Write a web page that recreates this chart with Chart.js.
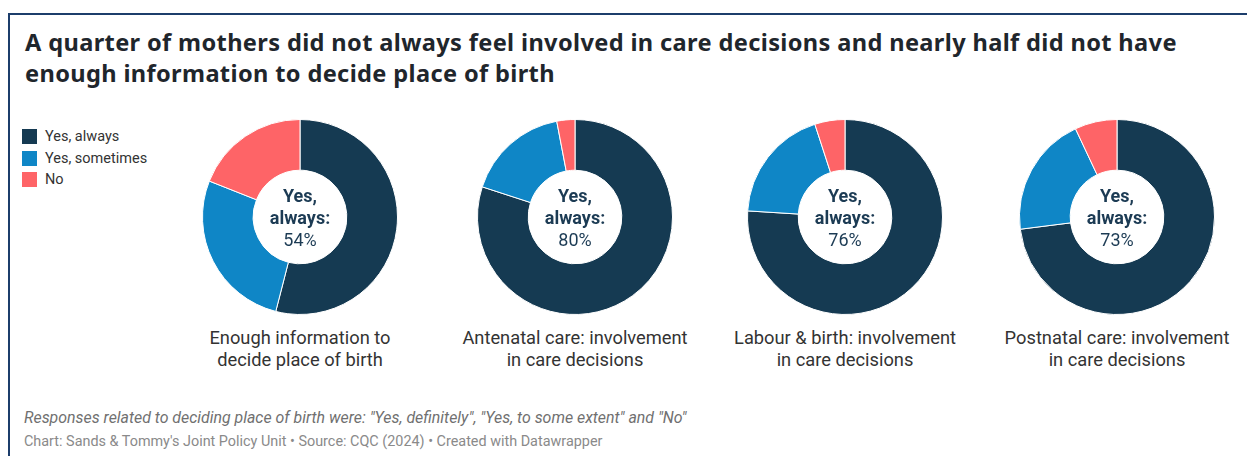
<!DOCTYPE html>
<html>
<head>
<meta charset="utf-8">
<script src="https://cdn.jsdelivr.net/npm/chart.js"></script>
<style>
  body { margin: 0; background: #fff; width: 1247px; height: 456px; overflow: hidden; position: relative; font-family: Roboto, sans-serif; }
  .frame { position: absolute; left: 8px; top: 13px; right: 0; bottom: 0; border-top: 2px solid #1c3d6b; border-left: 2px solid #1c3d6b; }
  h1 { position: absolute; left: 25px; top: 27px; margin: 0; width: 1210px; font-family: "Noto Sans", sans-serif; font-weight: 700; font-size: 23.6px; letter-spacing: 0.36px; line-height: 31px; color: #1f262c; }
  .legend { position: absolute; left: 22px; top: 126px; font-size: 14.5px; color: #333; }
  .legend div { height: 21.5px; display: flex; align-items: center; }
  .legend span { display: inline-block; width: 15px; height: 15px; margin-right: 8px; }
  .pie { position: absolute; width: 196px; height: 196px; top: 119px; }
  .cap { position: absolute; top: 327px; width: 280px; text-align: center; font-size: 18.3px; line-height: 22px; color: #333; }
  .note { position: absolute; left: 24px; top: 408px; font-size: 15.9px; font-style: italic; color: #707070; }
  .src { position: absolute; left: 24px; top: 433px; font-size: 14.4px; color: #8a8a8a; }
</style>
</head>
<body>
<div class="frame"></div>
<h1>A quarter of mothers did not always feel involved in care decisions and nearly half did not have<br>enough information to decide place of birth</h1>
<div class="legend" id="legend"></div>
<div id="charts"></div>
<div class="note">Responses related to deciding place of birth were: "Yes, definitely", "Yes, to some extent" and "No"</div>
<div class="src">Chart: Sands &amp; Tommy's Joint Policy Unit • Source: CQC (2024) • Created with Datawrapper</div>
<script>
const categories = ["Yes, always", "Yes, sometimes", "No"];
const colors = ["#153a52", "#0f86c6", "#fe6467"];

const titles = [
  ["Enough information to", "decide place of birth"],
  ["Antenatal care: involvement", "in care decisions"],
  ["Labour & birth: involvement", "in care decisions"],
  ["Postnatal care: involvement", "in care decisions"]
];
const yesAlways = [54, 80, 76, 73];
const yesSometimes = [27, 17, 19, 20];
const no = [19, 3, 5, 7];

const centersX = [300, 575, 845, 1117];

// legend
const legend = document.getElementById("legend");
categories.forEach((c, i) => {
  const row = document.createElement("div");
  row.innerHTML = '<span style="background:' + colors[i] + '"></span>' + c;
  legend.appendChild(row);
});

// writes "Yes, always: NN%" in the hole of the doughnut
const centerLabel = {
  id: "centerLabel",
  afterDraw(chart, args, opts) {
    const arc = chart.getDatasetMeta(0).data[0];
    const ctx = chart.ctx;
    ctx.save();
    ctx.fillStyle = "#1c3b54";
    ctx.textAlign = "center";
    ctx.textBaseline = "middle";
    ctx.font = "bold 18px Roboto";
    ctx.fillText("Yes,", arc.x, arc.y - 20);
    ctx.fillText("always:", arc.x, arc.y + 2);
    ctx.font = "18px Roboto";
    ctx.fillText(opts.value + "%", arc.x, arc.y + 24);
    ctx.restore();
  }
};

const holder = document.getElementById("charts");
titles.forEach((t, i) => {
  const box = document.createElement("div");
  box.className = "pie";
  box.style.left = (centersX[i] - 98) + "px";
  const canvas = document.createElement("canvas");
  box.appendChild(canvas);
  holder.appendChild(box);

  const cap = document.createElement("div");
  cap.className = "cap";
  cap.style.left = (centersX[i] - 140) + "px";
  cap.innerHTML = t.map(s => s.replace("&", "&amp;")).join("<br>");
  holder.appendChild(cap);

  new Chart(canvas, {
    type: "doughnut",
    data: {
      labels: categories,
      datasets: [{
        data: [yesAlways[i], yesSometimes[i], no[i]],
        backgroundColor: colors,
        borderColor: "#ffffff",
        borderWidth: 1
      }]
    },
    options: {
      responsive: true,
      maintainAspectRatio: false,
      animation: false,
      cutout: "48%",
      layout: { padding: 0 },
      plugins: {
        legend: { display: false },
        tooltip: { enabled: false },
        centerLabel: { value: yesAlways[i] }
      }
    },
    plugins: [centerLabel]
  });
});
</script>
</body>
</html>
